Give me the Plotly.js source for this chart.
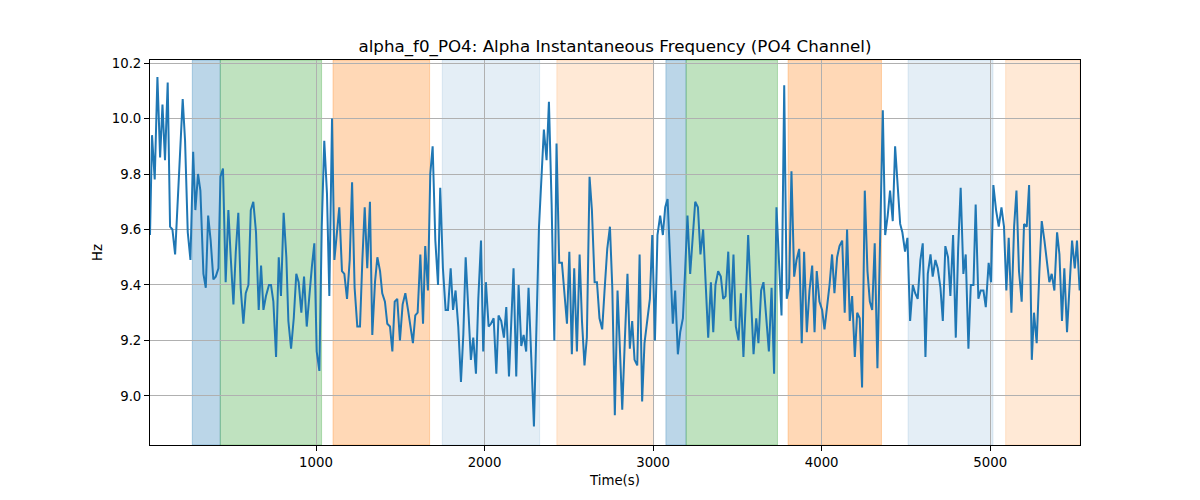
<!DOCTYPE html>
<html>
<head>
<meta charset="utf-8">
<script src="https://cdn.plot.ly/plotly-3.0.1.min.js"></script>
<style>html,body{margin:0;padding:0;background:#fff;}#chart{width:1200px;height:500px;}</style>
</head>
<body>
<div id="chart"></div>
<script>
// Time in seconds
const timeS = [15,27,43,59,75,89,104,120,134,148,164,209,223,239,255,271,284,300,314,332,346,360,375,391,405,421,433,448,464,480,494,510,524,539,553,569,583,599,613,628,644,660,674,688,703,721,733,747,763,779,792,808,824,836,852,868,883,897,913,929,945,960,976,990,1004,1020,1034,1049,1065,1079,1095,1109,1138,1154,1168,1184,1200,1214,1229,1245,1261,1275,1289,1304,1320,1334,1350,1364,1380,1393,1409,1423,1439,1453,1467,1482,1498,1514,1530,1546,1561,1575,1589,1603,1619,1635,1648,1664,1678,1692,1708,1724,1737,1753,1769,1783,1799,1813,1828,1844,1860,1874,1888,1904,1919,1933,1949,1963,1979,1992,2008,2024,2038,2054,2070,2083,2099,2115,2129,2145,2172,2188,2202,2218,2232,2247,2261,2277,2293,2323,2338,2352,2368,2382,2398,2414,2427,2443,2459,2473,2489,2503,2518,2532,2548,2564,2578,2593,2607,2623,2637,2653,2667,2682,2698,2712,2728,2744,2758,2773,2789,2803,2817,2833,2848,2862,2876,2890,2906,2920,2935,2949,2965,2981,2995,3011,3026,3042,3058,3072,3086,3102,3117,3131,3147,3161,3177,3190,3204,3220,3236,3250,3266,3281,3297,3311,3327,3343,3357,3370,3386,3402,3416,3430,3446,3461,3477,3491,3507,3521,3536,3550,3564,3596,3612,3625,3641,3655,3671,3687,3703,3718,3732,3748,3762,3778,3793,3807,3821,3837,3851,3867,3882,3896,3912,3928,3944,3958,3971,3987,4003,4017,4033,4047,4062,4076,4092,4106,4122,4137,4151,4167,4181,4197,4211,4226,4240,4256,4272,4286,4300,4315,4331,4363,4377,4392,4406,4422,4436,4452,4466,4479,4495,4509,4525,4541,4555,4570,4586,4600,4616,4630,4646,4659,4675,4689,4705,4719,4734,4750,4764,4780,4796,4810,4825,4841,4855,4871,4885,4901,4914,4930,4944,4960,4974,4991,5005,5019,5035,5051,5067,5082,5096,5110,5126,5142,5156,5171,5187,5201,5217,5231,5247,5260,5276,5292,5306,5322,5335,5351,5365,5381,5397,5411,5426,5440,5456,5470,5486,5502,5515,5531];
// Alpha instantaneous frequency (Hz)
const freqHz = [9.58,9.94,9.78,10.15,9.86,10.05,9.85,10.13,9.61,9.60,9.51,10.07,9.92,9.59,9.49,9.88,9.67,9.80,9.74,9.44,9.39,9.65,9.56,9.42,9.43,9.46,9.79,9.82,9.41,9.67,9.50,9.33,9.52,9.66,9.39,9.26,9.37,9.40,9.67,9.70,9.59,9.31,9.47,9.31,9.36,9.40,9.40,9.34,9.14,9.50,9.36,9.66,9.50,9.27,9.17,9.28,9.44,9.41,9.30,9.43,9.25,9.37,9.47,9.55,9.16,9.09,9.61,9.92,9.73,9.36,10.00,9.49,9.68,9.45,9.44,9.35,9.49,9.77,9.39,9.25,9.25,9.49,9.68,9.46,9.70,9.22,9.41,9.50,9.45,9.37,9.34,9.26,9.25,9.16,9.34,9.35,9.20,9.33,9.37,9.31,9.25,9.19,9.29,9.30,9.51,9.26,9.54,9.38,9.80,9.90,9.56,9.40,9.75,9.46,9.31,9.31,9.46,9.31,9.38,9.25,9.05,9.22,9.50,9.28,9.13,9.21,9.08,9.35,9.56,9.16,9.41,9.25,9.26,9.28,9.08,9.29,9.27,9.21,9.32,9.07,9.46,9.07,9.40,9.18,9.22,9.16,9.39,9.14,8.89,9.61,9.77,9.96,9.85,10.06,9.69,9.20,9.91,9.48,9.48,9.39,9.26,9.52,9.15,9.46,9.16,9.51,9.27,9.11,9.21,9.79,9.67,9.41,9.41,9.28,9.24,9.38,9.53,9.61,9.39,8.93,9.38,9.17,8.95,9.21,9.44,9.17,9.27,9.13,9.11,9.51,8.98,9.19,9.27,9.35,9.58,9.20,9.58,9.65,9.58,9.68,9.71,9.45,9.26,9.38,9.15,9.23,9.28,9.45,9.65,9.44,9.59,9.70,9.68,9.51,9.60,9.39,9.21,9.41,9.23,9.40,9.45,9.43,9.35,9.36,9.52,9.27,9.51,9.25,9.20,9.37,9.14,9.34,9.58,9.15,9.28,9.19,9.38,9.41,9.29,9.16,9.39,9.08,9.68,9.46,9.29,10.12,9.35,9.39,9.81,9.43,9.49,9.53,9.19,9.52,9.23,9.38,9.47,9.23,9.45,9.34,9.31,9.24,9.32,9.40,9.51,9.37,9.50,9.54,9.56,9.30,9.60,9.27,9.36,9.14,9.30,9.28,9.03,9.74,9.45,9.34,9.31,9.55,9.10,10.03,9.58,9.65,9.74,9.63,9.90,9.75,9.62,9.59,9.52,9.57,9.27,9.40,9.37,9.35,9.49,9.55,9.14,9.44,9.51,9.43,9.49,9.46,9.39,9.27,9.54,9.50,9.36,9.58,9.21,9.53,9.75,9.44,9.51,9.17,9.40,9.40,9.69,9.35,9.38,9.38,9.32,9.48,9.41,9.76,9.67,9.61,9.68,9.61,9.38,9.57,9.30,9.61,9.74,9.45,9.34,9.62,9.61,9.76,9.13,9.30,9.19,9.45,9.63,9.56,9.49,9.41,9.44,9.38,9.59,9.51,9.27,9.46,9.23,9.37,9.56,9.46,9.56,9.38];
// Shaded segments: start, end (s) and kind
const bandStart = [266, 432, 1101, 1749, 2429, 3076, 3196, 3801, 4513, 5092];
const bandEnd   = [432, 1033, 1674, 2327, 3003, 3196, 3738, 4355, 5017, 5533];
const bandKind  = ['blue','green','orange','lightblue','lightorange','blue','green','orange','lightblue','lightorange'];
const yTicks = [9.0, 9.2, 9.4, 9.6, 9.8, 10.0, 10.2];
const xTicks = [1000, 2000, 3000, 4000, 5000];

const bandColor = {
  blue: 'rgba(31,119,180,0.3)',
  green: 'rgba(44,160,44,0.3)',
  orange: 'rgba(255,127,14,0.3)',
  lightblue: 'rgba(31,119,180,0.12)',
  lightorange: 'rgba(255,127,14,0.17)'
};

const shapes = bandStart.map((s, i) => ({
  type: 'rect', xref: 'x', yref: 'paper',
  x0: s, x1: bandEnd[i], y0: 0, y1: 1,
  fillcolor: bandColor[bandKind[i]],
  line: {color: bandColor[bandKind[i]], width: 1},
  layer: 'below'
}));

const trace = {
  x: timeS, y: freqHz, type: 'scatter', mode: 'lines',
  line: {color: '#1f77b4', width: 2}, hoverinfo: 'skip'
};

const axisCommon = {
  showgrid: true, gridcolor: '#b0b0b0', gridwidth: 1,
  showline: true, linecolor: 'black', linewidth: 1, mirror: true,
  ticks: 'outside', ticklen: 5, tickcolor: 'black', tickwidth: 1,
  zeroline: false, tickfont: {size: 13.3, color: 'black'}
};

const layout = {
  width: 1200, height: 500,
  margin: {l: 150, r: 120, t: 60, b: 55},
  paper_bgcolor: 'white', plot_bgcolor: 'white',
  font: {family: 'DejaVu Sans', size: 13.3, color: 'black'},
  showlegend: false,
  title: {
    text: 'alpha_f0_PO4: Alpha Instantaneous Frequency (PO4 Channel)',
    font: {size: 16.7, color: 'black'},
    xref: 'paper', x: 0.5, xanchor: 'center',
    yref: 'container', y: 0.908, yanchor: 'middle'
  },
  xaxis: Object.assign({}, axisCommon, {
    range: [15, 5533], tickvals: xTicks, ticktext: xTicks.map(String),
    title: {text: 'Time(s)', font: {size: 13.3}, standoff: 6}
  }),
  yaxis: Object.assign({}, axisCommon, {
    range: [8.823, 10.211], tickvals: yTicks, ticktext: yTicks.map(v => v.toFixed(1)),
    title: {text: 'Hz', font: {size: 13.3}, standoff: 6}
  }),
  shapes: shapes
};

Plotly.newPlot('chart', [trace], layout, {staticPlot: true, displayModeBar: false});
</script>
</body>
</html>
